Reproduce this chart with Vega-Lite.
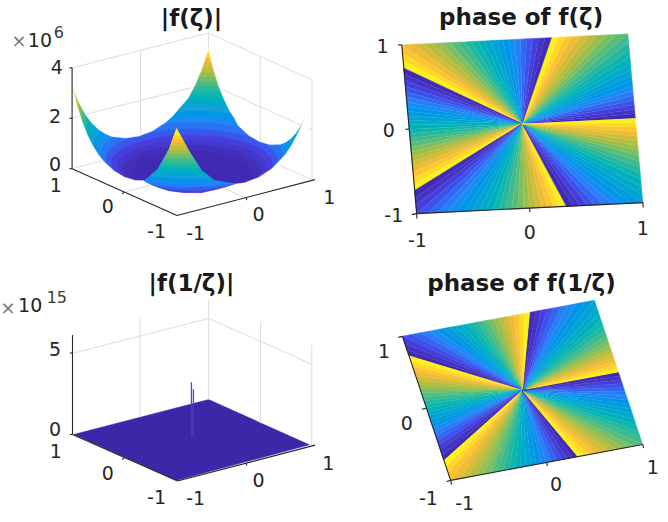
{"$schema":"https://vega.github.io/schema/vega-lite/v6.json","width":668,"height":522,"autosize":{"type":"fit","contains":"padding"},"padding":0,"background":"white","view":{"stroke":null},
"datasets":{
"bowl":[
{"t":0.3,"x":[71,80,90,103,123,143,150,167,200,233,250,270,287,302,306,310,305,300,293,283,270,250,233,220,213,207,200,192,180,163,147,127,107,93,83],"y":[85,117,143,163,175,180,184,190,192,183,180,172,153,133,112,96,112,123,137,143,143,135,117,90,70,48,65,90,110,125,135,138,135,128,113]},
{"t":0.975,"x":[205,263.3,302.1,311,287.6,238.2,176,117.7,78.9,70,93.4,142.8],"y":[48,56.3,73.5,95,115,128.2,131,122.7,105.5,84,64,50.8]},
{"t":0.925,"x":[204.9,262.6,301,309.8,286.6,237.7,176.1,118.4,80,71.2,94.4,143.3],"y":[52.6,60.8,77.9,99.1,118.9,132,135,126.6,109.5,88.3,68.5,55.4]},
{"t":0.875,"x":[204.7,261.8,299.8,308.5,285.6,237.2,176.3,119.2,81.2,72.5,95.4,143.8],"y":[57.3,65.4,82.2,103.3,122.9,135.8,138.5,130.4,113.6,92.5,72.9,60]},
{"t":0.825,"x":[204.5,261,298.5,307.1,284.5,236.7,176.5,120,82.5,73.9,96.5,144.3],"y":[61.9,70,86.6,107.4,126.8,139.6,142.3,134.2,117.6,96.8,77.4,64.6]},
{"t":0.775,"x":[204.4,260.1,297.2,305.7,283.3,236.1,176.6,120.9,83.8,75.3,97.7,144.9],"y":[66.6,74.6,91,111.6,130.7,143.3,146,138,121.6,101,81.9,69.3]},
{"t":0.725,"x":[204.2,259.2,295.9,304.3,282.2,235.5,176.8,121.8,85.1,76.7,98.8,145.5],"y":[71.3,79.2,95.4,115.7,134.6,147,149.7,141.8,125.6,105.3,86.4,74]},
{"t":0.675,"x":[204,258.3,294.4,302.7,280.9,234.9,177,122.7,86.6,78.3,100.1,146.1],"y":[76.1,83.8,99.8,119.8,138.4,150.7,153.3,145.6,129.6,109.6,91,78.7]},
{"t":0.625,"x":[203.8,257.3,292.8,301,279.5,234.2,177.2,123.7,88.2,80,101.5,146.8],"y":[80.8,88.5,104.2,123.9,142.3,154.4,157,149.3,133.6,113.9,95.5,83.4]},
{"t":0.575,"x":[203.6,256.2,291.3,299.3,278.2,233.6,177.4,124.8,89.7,81.7,102.8,147.4],"y":[85.6,93.1,108.7,128.1,146.1,158,160.6,153.1,137.5,118.1,100.1,88.2]},
{"t":0.525,"x":[203.4,255.1,289.5,297.4,276.6,232.8,177.6,125.9,91.5,83.6,104.4,148.2],"y":[90.5,97.9,113.1,132.2,149.9,161.6,164.1,156.7,141.5,122.4,104.7,93]},
{"t":0.475,"x":[203.1,253.9,287.7,295.5,275.1,232,177.9,127.1,93.3,85.5,105.9,149],"y":[95.4,102.6,117.6,136.3,153.7,165.2,167.6,160.4,145.4,126.7,109.3,97.8]},
{"t":0.425,"x":[202.9,252.5,285.6,293.2,273.2,231.1,178.1,128.5,95.4,87.8,107.8,149.9],"y":[100.3,107.4,122.1,140.4,157.4,168.7,171.1,164,149.3,131,114,102.7]},
{"t":0.375,"x":[202.6,251.1,283.5,290.9,271.4,230.2,178.4,129.9,97.5,90.1,109.6,150.8],"y":[105.3,112.2,126.6,144.5,161.1,172.1,174.5,167.6,153.2,135.3,118.7,107.7]},
{"t":0.325,"x":[202.2,249.5,280.9,288.1,269.2,229.1,178.8,131.5,100.1,92.9,111.8,151.9],"y":[110.5,117.2,131.1,148.6,164.8,175.4,177.7,171,157.1,139.6,123.4,112.8]},
{"t":0.27,"x":[201.9,247.7,278.2,285.2,266.8,228,179.1,133.3,102.8,95.8,114.2,153],"y":[115.7,122.2,135.7,152.6,168.3,178.7,180.9,174.4,160.9,144,128.3,117.9]},
{"t":0.21,"x":[201.4,245.2,274.4,281.1,263.5,226.4,179.6,135.8,106.6,99.9,117.5,154.6],"y":[122.1,128.3,141.3,157.4,172.5,182.4,184.5,178.3,165.3,149.2,134.1,124.2]},
{"t":0.155,"x":[200.8,242.2,269.7,276.1,259.4,224.4,180.2,138.8,111.3,104.9,121.6,156.6],"y":[128.9,134.8,147,162.3,176.5,185.9,187.9,182,169.8,154.5,140.3,130.9]},
{"t":0.11,"x":[200.1,238.9,264.7,270.6,255.1,222.2,180.9,142.1,116.3,110.4,125.9,158.8],"y":[135,140.5,152,166.3,179.6,188.3,190.2,184.7,173.2,158.9,145.6,136.9]},
{"t":0.075,"x":[199.5,235.5,259.5,265,250.5,220,181.5,145.5,121.5,116,130.5,161],"y":[140.3,145.4,156,169.3,181.7,189.8,191.5,186.4,175.8,162.5,150.1,142]},
{"t":0.045,"x":[198.8,232,254.1,259.2,245.8,217.7,182.2,149,126.9,121.8,135.2,163.3],"y":[144.8,149.6,159.4,171.6,183,190.6,192.2,187.4,177.6,165.4,154,146.4]},
{"t":0.02,"x":[197.7,226.6,245.9,250.3,238.7,214.2,183.3,154.4,135.1,130.7,142.3,166.8],"y":[150.4,154.5,163.1,173.7,183.6,190.2,191.6,187.5,178.9,168.3,158.4,151.8]}
],
"mask":[{"x":[0,0,334,334,0,0,70,75.3,80.6,85.9,91.2,96.5,101.8,112.4,123,133.6,144,150,158,167,183,200,217,233,243.5,257,270.5,284,290.75,297.5,304.25,310,305.7,300.4,295.1,289.8,284.5,279.2,268.6,258,247.4,236.8,233.5,228,222.9,217.6,212.3,207,200.25,193.5,186.75,178,171.25,164.5,151,137.5,124,110.5,103.75,97,90.25,83.5,76.75,70,0],"y":[84,0,0,245,245,84,84,105,121.6,134.9,145.4,153.9,160.6,170.4,176.7,179.8,180,184,187.5,190,192,192,188.5,183.5,182.2,177,168.3,154.2,144.2,131.5,115.4,95,111.3,123.2,131.8,137.6,141.4,143.4,143.8,140.7,134.4,124.6,117.9,109.4,98.8,85.6,69,48,68.4,84.5,97.2,107.2,115.1,121.3,130,135.2,137.2,135.7,133.1,128.8,122.4,113.3,100.8,84,84]}],
"cells":[
{"t":0.12,"x":[175,187,200,213,233,215,200,183,167,150,143,157,167],"y":[128,150,170,180,183,188.5,192,192,190,184,180,168,150]},
{"t":0.175,"x":[175,187,200,213,233,222,195,177,163,150,143,157,167],"y":[128,150,170,180,183,187,189.5,189.3,188,184,180,168,150]},
{"t":0.225,"x":[175,187,200,213,233,215,177,150,143,157,167],"y":[128,150,170,180,183,185.5,186.8,184,180,168,150]},
{"t":0.275,"x":[175,187,200,213,225,200,177,155,143,157,167],"y":[128,150,170,180,182.5,183.5,184,181.5,180,168,150]},
{"t":0.325,"x":[175,187,200,213,195,177,160,147,157,167],"y":[128,150,170,180,180.9,180.9,179.2,177,168,150]},
{"t":0.375,"x":[175,187,200,210,178,160,149.5,157,167],"y":[128,150,170,177.7,177.7,176.5,175,168,150]},
{"t":0.425,"x":[175,187,200,205.5,178,152,157,167],"y":[128,150,170,174.3,174.5,172.5,168,150]},
{"t":0.475,"x":[175,187,200,201.4,178,154.3,157,167],"y":[128,150,170,171.1,171.1,170.3,168,150]},
{"t":0.525,"x":[175,187,198.4,178,158.1,167],"y":[128,150,167.6,167.6,166,150]},
{"t":0.575,"x":[175,187,196.2,178,159.6,167],"y":[128,150,164.1,164.1,163.3,150]},
{"t":0.625,"x":[175,187,193.9,178,161.7,167],"y":[128,150,160.6,160.6,159.5,150]},
{"t":0.675,"x":[175,187,191.5,178,163.5,167],"y":[128,150,157,157,156.3,150]},
{"t":0.725,"x":[175,187,189.1,178,165.6,167],"y":[128,150,153.3,153.3,152.5,150]},
{"t":0.775,"x":[175,186.8,167.1],"y":[128,149.7,149.3]},
{"t":0.825,"x":[175,184.8,168.6],"y":[128,146,145.5]},
{"t":0.875,"x":[175,182.8,169.8],"y":[128,142.3,142]},
{"t":0.925,"x":[175,180.7,171.2],"y":[128,138.5,138.2]},
{"t":0.975,"x":[175,178.7,172.5],"y":[128,134.8,134.6]},
{"t":0,"x":[71.7,207.3,308.3,175],"y":[434.3,399.3,444.7,480.3]},
{"t":0.021,"x":[521.75,635.25,634.9],"y":[123,117.5,113]},
{"t":0.063,"x":[521.75,634.9,634.5],"y":[123,113,108.6]},
{"t":0.104,"x":[521.75,634.5,634.1],"y":[123,108.6,104]},
{"t":0.146,"x":[521.75,634.1,633.7],"y":[123,104,99.5]},
{"t":0.188,"x":[521.75,633.7,633.2],"y":[123,99.5,94.8]},
{"t":0.229,"x":[521.75,633.2,632.8],"y":[123,94.8,90]},
{"t":0.271,"x":[521.75,632.8,632.4],"y":[123,90,85]},
{"t":0.313,"x":[521.75,632.4,631.9],"y":[123,85,79.9]},
{"t":0.354,"x":[521.75,631.9,631.4],"y":[123,79.9,74.3]},
{"t":0.396,"x":[521.75,631.4,630.9],"y":[123,74.3,68.7]},
{"t":0.438,"x":[521.75,630.9,630.4],"y":[123,68.7,62.4]},
{"t":0.479,"x":[521.75,630.4,629.8],"y":[123,62.4,56.1]},
{"t":0.521,"x":[521.75,629.8,629.2],"y":[123,56.1,48.8]},
{"t":0.563,"x":[521.75,629.2,628.5],"y":[123,48.8,41.4]},
{"t":0.604,"x":[521.75,628.5,627.75],"y":[123,41.4,33]},
{"t":0.646,"x":[521.75,627.75,616.4],"y":[123,33,33.55]},
{"t":0.688,"x":[521.75,616.4,606.6],"y":[123,33.55,34]},
{"t":0.729,"x":[521.75,606.6,596.8],"y":[123,34,34.5]},
{"t":0.771,"x":[521.75,596.8,588.2],"y":[123,34.5,34.9]},
{"t":0.813,"x":[521.75,588.2,579.7],"y":[123,34.9,35.3]},
{"t":0.854,"x":[521.75,579.7,572.2],"y":[123,35.3,35.7]},
{"t":0.896,"x":[521.75,572.2,564.8],"y":[123,35.7,36.05]},
{"t":0.938,"x":[521.75,564.8,558],"y":[123,36.05,36.4]},
{"t":0.979,"x":[521.75,558,551.1],"y":[123,36.4,36.7]},
{"t":0.021,"x":[521.75,551.1,544.7],"y":[123,36.7,37]},
{"t":0.063,"x":[521.75,544.7,538.4],"y":[123,37,37.3]},
{"t":0.104,"x":[521.75,538.4,532.3],"y":[123,37.3,37.6]},
{"t":0.146,"x":[521.75,532.3,526.2],"y":[123,37.6,37.9]},
{"t":0.188,"x":[521.75,526.2,520.2],"y":[123,37.9,38.2]},
{"t":0.229,"x":[521.75,520.2,514.25],"y":[123,38.2,38.5]},
{"t":0.271,"x":[521.75,514.25,508.3],"y":[123,38.5,38.8]},
{"t":0.313,"x":[521.75,508.3,502.3],"y":[123,38.8,39.1]},
{"t":0.354,"x":[521.75,502.3,496.2],"y":[123,39.1,39.4]},
{"t":0.396,"x":[521.75,496.2,490.1],"y":[123,39.4,39.7]},
{"t":0.438,"x":[521.75,490.1,483.7],"y":[123,39.7,40]},
{"t":0.479,"x":[521.75,483.7,477.4],"y":[123,40,40.3]},
{"t":0.521,"x":[521.75,477.4,470.5],"y":[123,40.3,40.6]},
{"t":0.563,"x":[521.75,470.5,463.7],"y":[123,40.6,41]},
{"t":0.604,"x":[521.75,463.7,456.2],"y":[123,41,41.3]},
{"t":0.646,"x":[521.75,456.2,448.8],"y":[123,41.3,41.7]},
{"t":0.688,"x":[521.75,448.8,440.2],"y":[123,41.7,42.1]},
{"t":0.729,"x":[521.75,440.2,431.7],"y":[123,42.1,42.5]},
{"t":0.771,"x":[521.75,431.7,421.9],"y":[123,42.5,43]},
{"t":0.813,"x":[521.75,421.9,412.1],"y":[123,43,43.45]},
{"t":0.854,"x":[521.75,412.1,400.75],"y":[123,43.45,44]},
{"t":0.896,"x":[521.75,400.75,401.5],"y":[123,44,52.45]},
{"t":0.938,"x":[521.75,401.5,402.2],"y":[123,52.45,59.8]},
{"t":0.979,"x":[521.75,402.2,402.8],"y":[123,59.8,67.1]},
{"t":0.021,"x":[521.75,402.8,403.4],"y":[123,67.1,73.4]},
{"t":0.063,"x":[521.75,403.4,403.9],"y":[123,73.4,79.7]},
{"t":0.104,"x":[521.75,403.9,404.4],"y":[123,79.7,85.3]},
{"t":0.146,"x":[521.75,404.4,404.9],"y":[123,85.3,90.9]},
{"t":0.188,"x":[521.75,404.9,405.3],"y":[123,90.9,96]},
{"t":0.229,"x":[521.75,405.3,405.8],"y":[123,96,101]},
{"t":0.271,"x":[521.75,405.8,406.2],"y":[123,101,105.8]},
{"t":0.313,"x":[521.75,406.2,406.7],"y":[123,105.8,110.5]},
{"t":0.354,"x":[521.75,406.7,407.1],"y":[123,110.5,115]},
{"t":0.396,"x":[521.75,407.1,407.5],"y":[123,115,119.6]},
{"t":0.438,"x":[521.75,407.5,407.9],"y":[123,119.6,124]},
{"t":0.479,"x":[521.75,407.9,408.25],"y":[123,124,128.5]},
{"t":0.521,"x":[521.75,408.25,408.6],"y":[123,128.5,133]},
{"t":0.563,"x":[521.75,408.6,409],"y":[123,133,137.4]},
{"t":0.604,"x":[521.75,409,409.4],"y":[123,137.4,142]},
{"t":0.646,"x":[521.75,409.4,409.8],"y":[123,142,146.5]},
{"t":0.688,"x":[521.75,409.8,410.2],"y":[123,146.5,151.2]},
{"t":0.729,"x":[521.75,410.2,410.7],"y":[123,151.2,156]},
{"t":0.771,"x":[521.75,410.7,411.1],"y":[123,156,161]},
{"t":0.813,"x":[521.75,411.1,411.6],"y":[123,161,166.1]},
{"t":0.854,"x":[521.75,411.6,412.1],"y":[123,166.1,171.7]},
{"t":0.896,"x":[521.75,412.1,412.6],"y":[123,171.7,177.3]},
{"t":0.938,"x":[521.75,412.6,413.1],"y":[123,177.3,183.6]},
{"t":0.979,"x":[521.75,413.1,413.7],"y":[123,183.6,189.9]},
{"t":0.021,"x":[521.75,413.7,414.3],"y":[123,189.9,197.2]},
{"t":0.063,"x":[521.75,414.3,415],"y":[123,197.2,204.55]},
{"t":0.104,"x":[521.75,415,415.75],"y":[123,204.55,213]},
{"t":0.146,"x":[521.75,415.75,427.1],"y":[123,213,212.45]},
{"t":0.188,"x":[521.75,427.1,436.9],"y":[123,212.45,212]},
{"t":0.229,"x":[521.75,436.9,446.7],"y":[123,212,211.5]},
{"t":0.271,"x":[521.75,446.7,455.2],"y":[123,211.5,211.1]},
{"t":0.313,"x":[521.75,455.2,463.8],"y":[123,211.1,210.7]},
{"t":0.354,"x":[521.75,463.8,471.3],"y":[123,210.7,210.3]},
{"t":0.396,"x":[521.75,471.3,478.8],"y":[123,210.3,209.95]},
{"t":0.438,"x":[521.75,478.8,485.6],"y":[123,209.95,209.6]},
{"t":0.479,"x":[521.75,485.6,492.4],"y":[123,209.6,209.3]},
{"t":0.521,"x":[521.75,492.4,498.7],"y":[123,209.3,209]},
{"t":0.563,"x":[521.75,498.7,505.1],"y":[123,209,208.7]},
{"t":0.604,"x":[521.75,505.1,511.2],"y":[123,208.7,208.4]},
{"t":0.646,"x":[521.75,511.2,517.3],"y":[123,208.4,208.1]},
{"t":0.688,"x":[521.75,517.3,523.3],"y":[123,208.1,207.8]},
{"t":0.729,"x":[521.75,523.3,529.25],"y":[123,207.8,207.5]},
{"t":0.771,"x":[521.75,529.25,535.2],"y":[123,207.5,207.2]},
{"t":0.813,"x":[521.75,535.2,541.2],"y":[123,207.2,206.9]},
{"t":0.854,"x":[521.75,541.2,547.3],"y":[123,206.9,206.6]},
{"t":0.896,"x":[521.75,547.3,553.4],"y":[123,206.6,206.3]},
{"t":0.938,"x":[521.75,553.4,559.7],"y":[123,206.3,206]},
{"t":0.979,"x":[521.75,559.7,566.1],"y":[123,206,205.7]},
{"t":0.021,"x":[521.75,566.1,573],"y":[123,205.7,205.4]},
{"t":0.063,"x":[521.75,573,579.8],"y":[123,205.4,205.05]},
{"t":0.104,"x":[521.75,579.8,587.2],"y":[123,205.05,204.7]},
{"t":0.146,"x":[521.75,587.2,594.7],"y":[123,204.7,204.3]},
{"t":0.188,"x":[521.75,594.7,603.2],"y":[123,204.3,203.9]},
{"t":0.229,"x":[521.75,603.2,611.8],"y":[123,203.9,203.5]},
{"t":0.271,"x":[521.75,611.8,621.6],"y":[123,203.5,203]},
{"t":0.313,"x":[521.75,621.6,631.4],"y":[123,203,202.55]},
{"t":0.354,"x":[521.75,631.4,642.75],"y":[123,202.55,202]},
{"t":0.396,"x":[521.75,642.75,642],"y":[123,202,193.55]},
{"t":0.438,"x":[521.75,642,641.3],"y":[123,193.55,186.2]},
{"t":0.479,"x":[521.75,641.3,640.7],"y":[123,186.2,178.9]},
{"t":0.521,"x":[521.75,640.7,640.1],"y":[123,178.9,172.6]},
{"t":0.563,"x":[521.75,640.1,639.6],"y":[123,172.6,166.3]},
{"t":0.604,"x":[521.75,639.6,639.1],"y":[123,166.3,160.7]},
{"t":0.646,"x":[521.75,639.1,638.6],"y":[123,160.7,155.1]},
{"t":0.688,"x":[521.75,638.6,638.1],"y":[123,155.1,150]},
{"t":0.729,"x":[521.75,638.1,637.7],"y":[123,150,145]},
{"t":0.771,"x":[521.75,637.7,637.3],"y":[123,145,140.2]},
{"t":0.813,"x":[521.75,637.3,636.9],"y":[123,140.2,135.5]},
{"t":0.854,"x":[521.75,636.9,636.5],"y":[123,135.5,131]},
{"t":0.896,"x":[521.75,636.5,636],"y":[123,131,126.4]},
{"t":0.938,"x":[521.75,636,635.6],"y":[123,126.4,122]},
{"t":0.979,"x":[521.75,635.6,635.25],"y":[123,122,117.5]},
{"t":0.979,"x":[522,618.35,617.1],"y":[390,372,368.2]},
{"t":0.938,"x":[522,617.1,615.8],"y":[390,368.2,364.4]},
{"t":0.896,"x":[522,615.8,614.5],"y":[390,364.4,360.5]},
{"t":0.854,"x":[522,614.5,613.2],"y":[390,360.5,356.6]},
{"t":0.813,"x":[522,613.2,611.9],"y":[390,356.6,352.6]},
{"t":0.771,"x":[522,611.9,610.5],"y":[390,352.6,348.6]},
{"t":0.729,"x":[522,610.5,609.1],"y":[390,348.6,344.3]},
{"t":0.688,"x":[522,609.1,607.6],"y":[390,344.3,339.9]},
{"t":0.646,"x":[522,607.6,606],"y":[390,339.9,335.2]},
{"t":0.604,"x":[522,606,604.4],"y":[390,335.2,330.4]},
{"t":0.563,"x":[522,604.4,602.6],"y":[390,330.4,325]},
{"t":0.521,"x":[522,602.6,600.8],"y":[390,325,319.5]},
{"t":0.479,"x":[522,600.8,598.7],"y":[390,319.5,313.3]},
{"t":0.438,"x":[522,598.7,596.6],"y":[390,313.3,307.1]},
{"t":0.396,"x":[522,596.6,594.2],"y":[390,307.1,299.85]},
{"t":0.354,"x":[522,594.2,584.6],"y":[390,299.85,301.65]},
{"t":0.313,"x":[522,584.6,576.3],"y":[390,301.65,303.2]},
{"t":0.271,"x":[522,576.3,567.9],"y":[390,303.2,304.8]},
{"t":0.229,"x":[522,567.9,560.7],"y":[390,304.8,306.2]},
{"t":0.188,"x":[522,560.7,553.4],"y":[390,306.2,307.5]},
{"t":0.146,"x":[522,553.4,547],"y":[390,307.5,308.7]},
{"t":0.104,"x":[522,547,540.7],"y":[390,308.7,309.85]},
{"t":0.063,"x":[522,540.7,535],"y":[390,309.85,310.9]},
{"t":0.021,"x":[522,535,529.2],"y":[390,310.9,312]},
{"t":0.979,"x":[522,529.2,523.8],"y":[390,312,313]},
{"t":0.938,"x":[522,523.8,518.4],"y":[390,313,314]},
{"t":0.896,"x":[522,518.4,513.2],"y":[390,314,315]},
{"t":0.854,"x":[522,513.2,508],"y":[390,315,316]},
{"t":0.813,"x":[522,508,502.9],"y":[390,316,316.9]},
{"t":0.771,"x":[522,502.9,497.85],"y":[390,316.9,317.85]},
{"t":0.729,"x":[522,497.85,492.8],"y":[390,317.85,318.8]},
{"t":0.688,"x":[522,492.8,487.7],"y":[390,318.8,319.7]},
{"t":0.646,"x":[522,487.7,482.5],"y":[390,319.7,320.7]},
{"t":0.604,"x":[522,482.5,477.3],"y":[390,320.7,321.7]},
{"t":0.563,"x":[522,477.3,471.9],"y":[390,321.7,322.7]},
{"t":0.521,"x":[522,471.9,466.5],"y":[390,322.7,323.7]},
{"t":0.479,"x":[522,466.5,460.8],"y":[390,323.7,324.8]},
{"t":0.438,"x":[522,460.8,455],"y":[390,324.8,325.9]},
{"t":0.396,"x":[522,455,448.7],"y":[390,325.9,327]},
{"t":0.354,"x":[522,448.7,442.3],"y":[390,327,328.2]},
{"t":0.313,"x":[522,442.3,435],"y":[390,328.2,329.6]},
{"t":0.271,"x":[522,435,427.8],"y":[390,329.6,331]},
{"t":0.229,"x":[522,427.8,419.5],"y":[390,331,332.5]},
{"t":0.188,"x":[522,419.5,411.1],"y":[390,332.5,334.05]},
{"t":0.146,"x":[522,411.1,401.5],"y":[390,334.05,335.85]},
{"t":0.104,"x":[522,401.5,403.9],"y":[390,335.85,343.05]},
{"t":0.063,"x":[522,403.9,406],"y":[390,343.05,349.3]},
{"t":0.021,"x":[522,406,408.1],"y":[390,349.3,355.5]},
{"t":0.979,"x":[522,408.1,409.9],"y":[390,355.5,361]},
{"t":0.938,"x":[522,409.9,411.7],"y":[390,361,366.4]},
{"t":0.896,"x":[522,411.7,413.3],"y":[390,366.4,371.2]},
{"t":0.854,"x":[522,413.3,414.9],"y":[390,371.2,375.9]},
{"t":0.813,"x":[522,414.9,416.4],"y":[390,375.9,380.3]},
{"t":0.771,"x":[522,416.4,417.8],"y":[390,380.3,384.6]},
{"t":0.729,"x":[522,417.8,419.2],"y":[390,384.6,388.6]},
{"t":0.688,"x":[522,419.2,420.5],"y":[390,388.6,392.6]},
{"t":0.646,"x":[522,420.5,421.8],"y":[390,392.6,396.5]},
{"t":0.604,"x":[522,421.8,423.1],"y":[390,396.5,400.4]},
{"t":0.563,"x":[522,423.1,424.4],"y":[390,400.4,404.2]},
{"t":0.521,"x":[522,424.4,425.65],"y":[390,404.2,408]},
{"t":0.479,"x":[522,425.65,426.9],"y":[390,408,411.8]},
{"t":0.438,"x":[522,426.9,428.2],"y":[390,411.8,415.6]},
{"t":0.396,"x":[522,428.2,429.5],"y":[390,415.6,419.5]},
{"t":0.354,"x":[522,429.5,430.8],"y":[390,419.5,423.4]},
{"t":0.313,"x":[522,430.8,432.2],"y":[390,423.4,427.4]},
{"t":0.271,"x":[522,432.2,433.5],"y":[390,427.4,431.4]},
{"t":0.229,"x":[522,433.5,435],"y":[390,431.4,435.8]},
{"t":0.188,"x":[522,435,436.4],"y":[390,435.8,440.1]},
{"t":0.146,"x":[522,436.4,438],"y":[390,440.1,444.9]},
{"t":0.104,"x":[522,438,439.6],"y":[390,444.9,449.6]},
{"t":0.063,"x":[522,439.6,441.4],"y":[390,449.6,455]},
{"t":0.021,"x":[522,441.4,443.2],"y":[390,455,460.5]},
{"t":0.979,"x":[522,443.2,445.3],"y":[390,460.5,466.7]},
{"t":0.938,"x":[522,445.3,447.4],"y":[390,466.7,472.9]},
{"t":0.896,"x":[522,447.4,449.8],"y":[390,472.9,480.15]},
{"t":0.854,"x":[522,449.8,459.4],"y":[390,480.15,478.35]},
{"t":0.813,"x":[522,459.4,467.8],"y":[390,478.35,476.8]},
{"t":0.771,"x":[522,467.8,476.1],"y":[390,476.8,475.2]},
{"t":0.729,"x":[522,476.1,483.4],"y":[390,475.2,473.9]},
{"t":0.688,"x":[522,483.4,490.6],"y":[390,473.9,472.5]},
{"t":0.646,"x":[522,490.6,497],"y":[390,472.5,471.3]},
{"t":0.604,"x":[522,497,503.3],"y":[390,471.3,470.15]},
{"t":0.563,"x":[522,503.3,509],"y":[390,470.15,469.1]},
{"t":0.521,"x":[522,509,514.8],"y":[390,469.1,468]},
{"t":0.479,"x":[522,514.8,520.2],"y":[390,468,467]},
{"t":0.438,"x":[522,520.2,525.6],"y":[390,467,466]},
{"t":0.396,"x":[522,525.6,530.8],"y":[390,466,465]},
{"t":0.354,"x":[522,530.8,536],"y":[390,465,464]},
{"t":0.313,"x":[522,536,541.1],"y":[390,464,463.1]},
{"t":0.271,"x":[522,541.1,546.15],"y":[390,463.1,462.15]},
{"t":0.229,"x":[522,546.15,551.2],"y":[390,462.15,461.2]},
{"t":0.188,"x":[522,551.2,556.3],"y":[390,461.2,460.3]},
{"t":0.146,"x":[522,556.3,561.5],"y":[390,460.3,459.3]},
{"t":0.104,"x":[522,561.5,566.7],"y":[390,459.3,458.3]},
{"t":0.063,"x":[522,566.7,572.1],"y":[390,458.3,457.3]},
{"t":0.021,"x":[522,572.1,577.5],"y":[390,457.3,456.3]},
{"t":0.979,"x":[522,577.5,583.2],"y":[390,456.3,455.2]},
{"t":0.938,"x":[522,583.2,589],"y":[390,455.2,454.15]},
{"t":0.896,"x":[522,589,595.3],"y":[390,454.15,453]},
{"t":0.854,"x":[522,595.3,601.7],"y":[390,453,451.8]},
{"t":0.813,"x":[522,601.7,609],"y":[390,451.8,450.4]},
{"t":0.771,"x":[522,609,616.2],"y":[390,450.4,449.05]},
{"t":0.729,"x":[522,616.2,624.5],"y":[390,449.05,447.5]},
{"t":0.688,"x":[522,624.5,632.9],"y":[390,447.5,445.95]},
{"t":0.646,"x":[522,632.9,642.5],"y":[390,445.95,444.15]},
{"t":0.604,"x":[522,642.5,640.1],"y":[390,444.15,436.95]},
{"t":0.563,"x":[522,640.1,638],"y":[390,436.95,430.7]},
{"t":0.521,"x":[522,638,635.9],"y":[390,430.7,424.5]},
{"t":0.479,"x":[522,635.9,634.1],"y":[390,424.5,419]},
{"t":0.438,"x":[522,634.1,632.3],"y":[390,419,413.6]},
{"t":0.396,"x":[522,632.3,630.7],"y":[390,413.6,408.8]},
{"t":0.354,"x":[522,630.7,629.1],"y":[390,408.8,404.1]},
{"t":0.313,"x":[522,629.1,627.6],"y":[390,404.1,399.7]},
{"t":0.271,"x":[522,627.6,626.2],"y":[390,399.7,395.4]},
{"t":0.229,"x":[522,626.2,624.8],"y":[390,395.4,391.4]},
{"t":0.188,"x":[522,624.8,623.5],"y":[390,391.4,387.4]},
{"t":0.146,"x":[522,623.5,622.2],"y":[390,387.4,383.5]},
{"t":0.104,"x":[522,622.2,620.9],"y":[390,383.5,379.6]},
{"t":0.063,"x":[522,620.9,619.6],"y":[390,379.6,375.8]},
{"t":0.021,"x":[522,619.6,618.35],"y":[390,375.8,372]}
],
"grid":[
{"x":70.3,"y":67,"x2":207,"y2":32},{"x":207,"y":32,"x2":311,"y2":79},
{"x":70.3,"y":117.5,"x2":79,"y2":115.3},{"x":84,"y":113.5,"x2":190,"y2":86.9},{"x":221,"y":88.8,"x2":300,"y2":124.5},{"x":307,"y":127.3,"x2":311,"y2":129},
{"x":139,"y":49.5,"x2":139,"y2":135.5},{"x":259,"y":55,"x2":259,"y2":141},{"x":207,"y":32,"x2":207,"y2":48},{"x":311,"y":79,"x2":311,"y2":179},
{"x":70.3,"y":168,"x2":100,"y2":160.2},{"x":311,"y":179,"x2":279,"y2":165},{"x":123,"y":191.5,"x2":149,"y2":184.5},{"x":243.5,"y":197,"x2":222,"y2":187.5},
{"x":71,"y":353,"x2":207.3,"y2":318},{"x":207.3,"y":318,"x2":311,"y2":364},{"x":207.3,"y":299.3,"x2":207.3,"y2":399.3},{"x":138.3,"y":317,"x2":138.3,"y2":417},{"x":259.3,"y":322,"x2":259.3,"y2":423},{"x":310.7,"y":344.7,"x2":310.7,"y2":444.7}
],
"spike":[{"x":190,"y":382,"x2":190,"y2":405},{"x":192,"y":389,"x2":192,"y2":405}],
"faint":[{"x":191,"y":405,"x2":191,"y2":437}],
"axes":[
{"x":70.3,"y":67,"x2":70.3,"y2":168},{"x":67.5,"y":67,"x2":70.3,"y2":67},{"x":67.5,"y":117.5,"x2":70.3,"y2":117.5},{"x":67.5,"y":168,"x2":70.3,"y2":168},
{"x":70.3,"y":168,"x2":175.5,"y2":215},{"x":175.5,"y":215,"x2":314,"y2":179},{"x":122.5,"y":191.5,"x2":120.5,"y2":193.5},{"x":245,"y":197,"x2":245.5,"y2":199.5},
{"x":70.7,"y":334.7,"x2":70.7,"y2":434.3},{"x":68,"y":352.7,"x2":70.7,"y2":352.7},{"x":68,"y":434.3,"x2":70.7,"y2":434.3},
{"x":70.7,"y":434.3,"x2":176,"y2":481},{"x":176,"y":481,"x2":314,"y2":445},{"x":122.5,"y":457.5,"x2":120.5,"y2":459.5},{"x":245,"y":463,"x2":245.5,"y2":465.5},
{"x":401,"y":44,"x2":416,"y2":213},{"x":416,"y":213,"x2":643,"y2":202},{"x":401,"y":44,"x2":397,"y2":44},{"x":408.5,"y":128.5,"x2":404.5,"y2":128.5},{"x":416,"y":213,"x2":411,"y2":214},{"x":416,"y":213,"x2":416,"y2":218},{"x":529.3,"y":207.5,"x2":529.3,"y2":211.5},{"x":643,"y":202,"x2":643,"y2":207},
{"x":401.7,"y":336,"x2":450,"y2":480.3},{"x":450,"y":480.3,"x2":642.7,"y2":444.3},{"x":401.7,"y":336,"x2":397.5,"y2":337},{"x":425.6,"y":408,"x2":421,"y2":409},{"x":450,"y":480.3,"x2":446,"y2":481.5},{"x":450,"y":480.3,"x2":451,"y2":484.5},{"x":546.2,"y":462,"x2":547,"y2":466},{"x":642.7,"y":444.3,"x2":643.5,"y2":448}
],
"ticks":[
{"x":55,"y":66.7,"s":"4"},{"x":53.3,"y":116.7,"s":"2"},{"x":53.3,"y":164,"s":"0"},{"x":54,"y":185.5,"s":"1"},{"x":106,"y":206.7,"s":"0"},{"x":155,"y":231,"s":"-1"},{"x":194.3,"y":233,"s":"-1"},{"x":257.3,"y":214,"s":"0"},{"x":328.3,"y":197.3,"s":"1"},
{"x":381.7,"y":45.7,"s":"1"},{"x":388,"y":130,"s":"0"},{"x":393,"y":215.7,"s":"-1"},{"x":416.7,"y":240.7,"s":"-1"},{"x":529.3,"y":232,"s":"0"},{"x":642.7,"y":228,"s":"1"},
{"x":53.3,"y":349.3,"s":"5"},{"x":53.3,"y":430,"s":"0"},{"x":54,"y":452,"s":"1"},{"x":106,"y":473.7,"s":"0"},{"x":155,"y":497.7,"s":"-1"},{"x":194.3,"y":499.3,"s":"-1"},{"x":257.3,"y":481,"s":"0"},{"x":327.3,"y":463.7,"s":"1"},
{"x":383.3,"y":352,"s":"1"},{"x":406,"y":423.7,"s":"0"},{"x":427.7,"y":499.3,"s":"-1"},{"x":464,"y":503.7,"s":"-1"},{"x":555.7,"y":484.7,"s":"0"},{"x":652.7,"y":468,"s":"1"},
{"x":38,"y":40,"s":"10"},{"x":28.3,"y":305.3,"s":"10"}
],
"sup":[{"x":57,"y":32,"s":"6"},{"x":55,"y":298,"s":"15"}],
"times":[{"x":17,"y":41,"s":"×"},{"x":6,"y":308.7,"s":"×"}],
"titles":[{"x":190,"y":18,"s":"|f(ζ)|"},{"x":520.7,"y":17,"s":"phase of f(ζ)"},{"x":190,"y":284,"s":"|f(1/ζ)|"},{"x":521,"y":284,"s":"phase of f(1/ζ)"}]
},
"encoding":{
"x":{"field":"x","type":"quantitative","scale":{"domain":[0,668],"nice":false,"zero":false},"axis":null},
"y":{"field":"y","type":"quantitative","scale":{"domain":[522,0],"nice":false,"zero":false},"axis":null}
},
"layer":[
{"data":{"name":"bowl"},"transform":[{"window":[{"op":"row_number","as":"id"}]},{"flatten":["x","y"]},{"window":[{"op":"row_number","as":"i"}]}],"mark":{"type":"line","strokeWidth":0.5,"interpolate":"cardinal-closed"},"encoding":{"detail":{"field":"id"},"order":{"field":"i"},
"fill":{"field":"t","type":"quantitative","legend":null,"scale":{"domain":[0,0.125,0.25,0.375,0.5,0.625,0.75,0.875,1],"range":["#3E26A8","#4743E4","#2E87F7","#149FD8","#0BB4B4","#4ABB85","#ADBD44","#F9BA38","#F9FB15"]}},
"stroke":{"field":"t","type":"quantitative","legend":null,"scale":{"domain":[0,0.125,0.25,0.375,0.5,0.625,0.75,0.875,1],"range":["#3E26A8","#4743E4","#2E87F7","#149FD8","#0BB4B4","#4ABB85","#ADBD44","#F9BA38","#F9FB15"]}}}},
{"data":{"name":"mask"},"transform":[{"window":[{"op":"row_number","as":"id"}]},{"flatten":["x","y"]},{"window":[{"op":"row_number","as":"i"}]}],"mark":{"type":"line","fill":"white","stroke":"white","strokeWidth":0.5},"encoding":{"detail":{"field":"id"},"order":{"field":"i"}}},
{"data":{"name":"cells"},"transform":[{"window":[{"op":"row_number","as":"id"}]},{"flatten":["x","y"]},{"window":[{"op":"row_number","as":"i"}]}],"mark":{"type":"line","strokeWidth":0.5},"encoding":{"detail":{"field":"id"},"order":{"field":"i"},
"fill":{"field":"t","type":"quantitative","legend":null,"scale":{"domain":[0,0.125,0.25,0.375,0.5,0.625,0.75,0.875,1],"range":["#3E26A8","#4743E4","#2E87F7","#149FD8","#0BB4B4","#4ABB85","#ADBD44","#F9BA38","#F9FB15"]}},
"stroke":{"field":"t","type":"quantitative","legend":null,"scale":{"domain":[0,0.125,0.25,0.375,0.5,0.625,0.75,0.875,1],"range":["#3E26A8","#4743E4","#2E87F7","#149FD8","#0BB4B4","#4ABB85","#ADBD44","#F9BA38","#F9FB15"]}}}},
{"data":{"name":"grid"},"mark":{"type":"rule","stroke":"#dcdcdc","strokeWidth":1},"encoding":{"x2":{"field":"x2"},"y2":{"field":"y2"}}},
{"data":{"name":"faint"},"mark":{"type":"rule","stroke":"#4238b8","strokeWidth":3},"encoding":{"x2":{"field":"x2"},"y2":{"field":"y2"}}},
{"data":{"name":"spike"},"mark":{"type":"rule","stroke":"#4a46e0","strokeWidth":1.3},"encoding":{"x2":{"field":"x2"},"y2":{"field":"y2"}}},
{"data":{"name":"axes"},"mark":{"type":"rule","stroke":"#262626","strokeWidth":1.1},"encoding":{"x2":{"field":"x2"},"y2":{"field":"y2"}}},
{"data":{"name":"ticks"},"mark":{"type":"text","font":"DejaVu Sans","fontSize":19,"fill":"#262626","align":"center","baseline":"middle"},"encoding":{"text":{"field":"s"}}},
{"data":{"name":"sup"},"mark":{"type":"text","font":"DejaVu Sans","fontSize":16,"fill":"#3a3a3a","align":"center","baseline":"middle"},"encoding":{"text":{"field":"s"}}},
{"data":{"name":"times"},"mark":{"type":"text","font":"DejaVu Sans","fontSize":18,"fill":"#777777","align":"center","baseline":"middle"},"encoding":{"text":{"field":"s"}}},
{"data":{"name":"titles"},"mark":{"type":"text","font":"DejaVu Sans","fontSize":23,"fontWeight":"bold","fill":"#1a1a1a","align":"center","baseline":"middle"},"encoding":{"text":{"field":"s"}}}
]}
